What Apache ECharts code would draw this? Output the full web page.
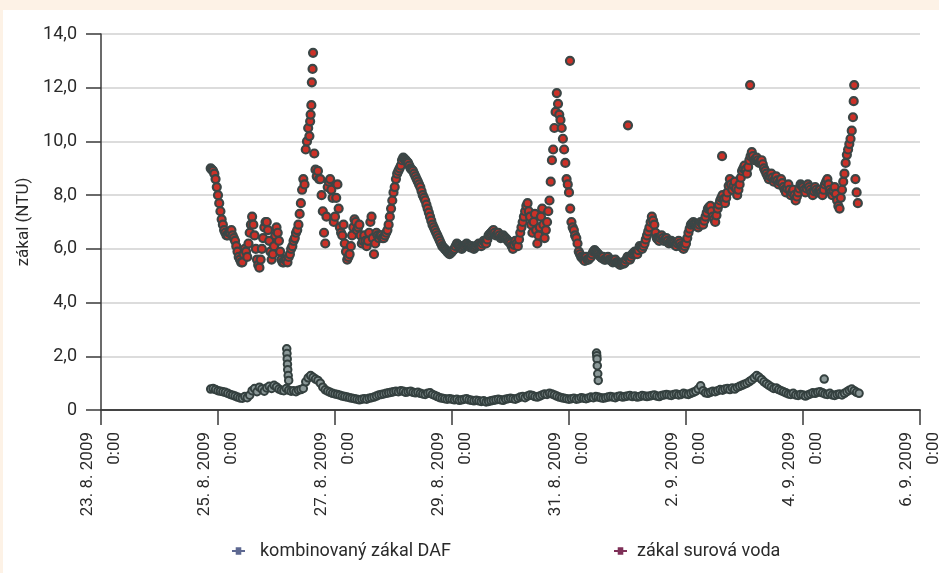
<!DOCTYPE html>
<html>
<head>
<meta charset="utf-8">
<script src="https://cdn.jsdelivr.net/npm/echarts@6/dist/echarts.min.js"></script>
<style>
  html, body { margin: 0; padding: 0; width: 939px; height: 573px; overflow: hidden; background: #fdf2e6; }
  #chart { position: absolute; left: 3px; top: 10px; width: 936px; height: 563px; background: #ffffff; }
</style>
</head>
<body>
<div id="chart"></div>
<script>
// Axis tick labels (x axis: one tick every two days starting 23. 8. 2009)
const dateTicks = ['23. 8. 2009', '25. 8. 2009', '27. 8. 2009', '29. 8. 2009',
                   '31. 8. 2009', '2. 9. 2009', '4. 9. 2009', '6. 9. 2009'];
const timeTick = '0:00';
const yTicks = [0, 2, 4, 6, 8, 10, 12, 14];

const seriesNames = ['kombinovaný zákal DAF', 'zákal surová voda'];

// First sample 24. 8. 2009 21:00 (x in days since 23. 8. 2009 0:00)
const firstSampleDay = 1.875;
const rawWaterStepHours = 0.5;
const dafStepHours = 1;

// zákal surová voda (NTU), every 30 minutes
const rawWater = [
  9.0, 8.95, 8.9, 8.8, 8.6, 8.3, 8.0, 7.7, 7.4, 7.1, 6.9, 6.7, 6.6, 6.5, 6.5, 6.6,
  6.6, 6.7, 6.5, 6.4, 6.3, 6.1, 5.9, 5.7, 5.6, 5.5, 5.5, 5.8, 6.0, 5.9, 5.7, 6.2,
  6.6, 6.9, 7.2, 6.9, 6.5, 6.0, 5.6, 5.4, 5.3, 5.6, 6.0, 6.4, 6.8, 7.0, 7.0, 6.7,
  6.3, 5.9, 5.6, 5.8, 6.1, 6.5, 6.8, 6.6, 6.3, 5.9, 5.6, 5.5, 5.5, 5.6, 5.6, 5.5,
  5.7, 5.8, 6.0, 6.1, 6.3, 6.4, 6.6, 6.7, 6.9, 7.3, 7.7, 8.2, 8.6, 8.4, 9.7, 10.0,
  10.5, 10.2, 11.0, 12.2, 13.3, 9.55, 8.95, 8.7, 8.9, 8.6, 8.6, 8.0, 7.4, 6.6, 6.2, 7.2,
  8.3, 8.5, 8.6, 8.2, 7.9, 7.0, 7.2, 7.9, 8.4, 7.5, 6.8, 6.6, 6.5, 6.9, 6.2, 5.9,
  5.6, 5.7, 5.8, 6.1, 6.5, 6.8, 7.1, 7.0, 6.7, 6.8, 6.9, 6.5, 6.2, 6.3, 6.5, 6.3,
  6.1, 6.3, 6.6, 7.0, 7.2, 6.4, 5.8, 6.2, 6.6, 6.5, 6.4, 6.5, 6.5, 6.4, 6.4, 6.5,
  6.6, 6.7, 6.9, 7.2, 7.5, 7.8, 8.1, 8.3, 8.6, 8.8, 8.9, 9.0, 9.1, 9.3, 9.4, 9.35,
  9.3, 9.25, 9.2, 9.1, 9.0, 8.95, 8.9, 8.8, 8.7, 8.6, 8.5, 8.4, 8.3, 8.15, 8.0, 7.9,
  7.8, 7.65, 7.5, 7.35, 7.2, 7.05, 6.9, 6.8, 6.7, 6.6, 6.5, 6.4, 6.3, 6.2, 6.1, 6.05,
  6.0, 5.95, 5.9, 5.85, 5.8, 5.85, 5.9, 5.95, 6.0, 6.1, 6.2, 6.15, 6.1, 6.05, 6.0, 6.05,
  6.1, 6.15, 6.2, 6.15, 6.1, 6.05, 6.1, 6.05, 6.0, 6.05, 6.1, 6.15, 6.2, 6.15, 6.1, 6.2,
  6.3, 6.25, 6.2, 6.35, 6.5, 6.55, 6.6, 6.65, 6.7, 6.6, 6.5, 6.55, 6.6, 6.5, 6.4, 6.45,
  6.5, 6.45, 6.4, 6.35, 6.3, 6.25, 6.2, 6.1, 6.0, 6.15, 6.3, 6.2, 6.1, 6.35, 6.6, 6.8,
  7.0, 7.2, 7.4, 7.6, 7.7, 7.4, 7.2, 6.9, 6.6, 7.0, 7.3, 6.7, 6.2, 6.5, 6.8, 7.2,
  7.5, 6.9, 6.4, 6.7, 7.0, 7.4, 7.8, 8.5, 9.3, 9.7, 10.5, 11.1, 11.8, 11.4, 11.0, 10.8,
  10.5, 10.1, 9.7, 9.2, 8.6, 8.4, 8.1, 7.5, 7.0, 6.8, 6.7, 6.5, 6.4, 6.2, 5.9, 5.8,
  5.7, 5.65, 5.6, 5.55, 5.7, 5.6, 5.6, 5.65, 5.7, 5.8, 5.9, 5.95, 5.9, 5.85, 5.8, 5.75,
  5.7, 5.65, 5.7, 5.6, 5.6, 5.65, 5.7, 5.6, 5.6, 5.55, 5.5, 5.55, 5.6, 5.5, 5.5, 5.45,
  5.4, 5.45, 5.5, 5.45, 5.5, 5.6, 5.7, 5.65, 5.6, 5.7, 5.8, 5.85, 5.9, 5.85, 5.8, 5.95,
  6.1, 6.05, 6.0, 6.1, 6.2, 6.35, 6.5, 6.65, 6.8, 7.0, 7.2, 7.05, 6.9, 6.6, 6.4, 6.35,
  6.3, 6.4, 6.5, 6.4, 6.3, 6.35, 6.4, 6.3, 6.2, 6.25, 6.3, 6.25, 6.2, 6.15, 6.1, 6.2,
  6.3, 6.2, 6.1, 6.05, 6.0, 6.1, 6.2, 6.4, 6.6, 6.75, 6.9, 6.95, 7.0, 6.95, 6.9, 6.85,
  6.8, 6.9, 7.0, 6.95, 6.9, 7.05, 7.2, 7.35, 7.5, 7.55, 7.6, 7.4, 7.2, 7.1, 7.0, 7.25,
  7.5, 7.65, 7.8, 7.9, 8.0, 7.85, 7.7, 7.9, 8.1, 8.35, 8.6, 8.4, 8.2, 8.35, 8.5, 8.25,
  8.0, 8.2, 8.4, 8.65, 8.9, 9.0, 9.1, 8.95, 8.8, 9.05, 9.3, 9.45, 9.6, 9.45, 9.3, 9.35,
  9.4, 9.3, 9.2, 9.25, 9.3, 9.15, 9.0, 8.9, 8.8, 8.7, 8.6, 8.7, 8.8, 8.65, 8.5, 8.6,
  8.7, 8.55, 8.4, 8.5, 8.6, 8.45, 8.3, 8.2, 8.1, 8.25, 8.4, 8.2, 8.0, 8.1, 8.2, 8.0,
  7.8, 7.95, 8.1, 8.25, 8.4, 8.35, 8.3, 8.2, 8.1, 8.25, 8.4, 8.3, 8.2, 8.1, 8.0, 8.15,
  8.3, 8.2, 8.1, 8.15, 8.2, 8.1, 8.0, 8.2, 8.4, 8.5, 8.6, 8.4, 8.2, 8.1, 8.0, 8.15,
  8.3, 8.05, 7.8, 7.6, 7.5, 7.9, 8.2, 8.5, 8.8, 9.2, 9.5, 9.7, 9.9, 10.1, 10.4, 10.9,
  12.1, 8.6, 8.1, 7.7
];
// extra readings between the regular samples: hours since 25. 8. 2009 0:00, NTU
const rawWaterExtraHours = [37.8, 38.3, 38.8, 144.4, 168.2, 206.8, 218.3, 260.8];
const rawWaterExtraValues = [10.75, 11.35, 12.7, 13.0, 10.6, 9.45, 12.1, 11.5];

// kombinovaný zákal DAF (NTU), hourly
const dafTurbidity = [
  0.78, 0.80, 0.76, 0.72, 0.70, 0.68, 0.66, 0.62, 0.58, 0.55, 0.52, 0.48, 0.45, 0.44, 0.50, 0.46,
  0.55, 0.72, 0.80, 0.68, 0.85, 0.78, 0.70, 0.82, 0.88, 0.80, 0.92, 0.86, 0.78, 0.74, 0.72, 0.80,
  0.74, 0.70, 0.72, 0.68, 0.74, 0.76, 0.80, 1.05, 1.20, 1.28, 1.22, 1.15, 1.10, 1.00, 0.85, 0.75,
  0.70, 0.66, 0.62, 0.60, 0.58, 0.55, 0.52, 0.50, 0.48, 0.46, 0.44, 0.42, 0.40, 0.38, 0.40, 0.42,
  0.40, 0.44, 0.46, 0.48, 0.52, 0.56, 0.58, 0.60, 0.62, 0.64, 0.66, 0.68, 0.70, 0.68, 0.72, 0.70,
  0.66, 0.68, 0.70, 0.66, 0.64, 0.66, 0.62, 0.60, 0.58, 0.62, 0.64, 0.58, 0.54, 0.50, 0.46, 0.44,
  0.42, 0.40, 0.42, 0.40, 0.38, 0.40, 0.36, 0.38, 0.40, 0.42, 0.38, 0.36, 0.34, 0.36, 0.34, 0.32,
  0.34, 0.30, 0.32, 0.34, 0.36, 0.38, 0.40, 0.38, 0.36, 0.40, 0.42, 0.44, 0.42, 0.40, 0.44, 0.48,
  0.50, 0.46, 0.52, 0.56, 0.54, 0.50, 0.48, 0.52, 0.56, 0.60, 0.58, 0.62, 0.60, 0.56, 0.52, 0.48,
  0.46, 0.44, 0.42, 0.40, 0.42, 0.44, 0.40, 0.42, 0.46, 0.44, 0.42, 0.45, 0.48, 0.46, 0.50, 0.48,
  0.46, 0.44, 0.46, 0.48, 0.50, 0.48, 0.46, 0.50, 0.52, 0.48, 0.50, 0.52, 0.54, 0.50, 0.52, 0.48,
  0.50, 0.54, 0.52, 0.50, 0.52, 0.54, 0.56, 0.52, 0.50, 0.54, 0.56, 0.58, 0.56, 0.54, 0.58, 0.60,
  0.56, 0.58, 0.62, 0.60, 0.58, 0.62, 0.66, 0.70, 0.78, 0.90, 0.72, 0.64, 0.62, 0.66, 0.70, 0.68,
  0.72, 0.76, 0.74, 0.78, 0.80, 0.76, 0.82, 0.78, 0.84, 0.88, 0.92, 0.96, 1.00, 1.06, 1.12, 1.20,
  1.28, 1.22, 1.14, 1.05, 0.98, 0.92, 0.86, 0.80, 0.82, 0.76, 0.72, 0.68, 0.64, 0.60, 0.58, 0.62,
  0.56, 0.54, 0.58, 0.56, 0.52, 0.56, 0.60, 0.64, 0.62, 0.66, 0.68, 0.64, 0.60, 0.58, 0.62, 0.56,
  0.54, 0.58, 0.60, 0.56, 0.62, 0.68, 0.74, 0.78, 0.72, 0.66, 0.62
];
const dafExtraHours = [28.2, 28.3, 28.4, 28.5, 28.6, 28.8, 29.0,
                       155.3, 155.4, 155.5, 155.6, 155.8, 156.0,
                       248.7];
const dafExtraValues = [2.28, 2.10, 1.90, 1.70, 1.50, 1.28, 1.10,
                        2.12, 2.02, 1.90, 1.65, 1.35, 1.10,
                        1.15];

// Build [day, value] pairs for the value axis (days since 23. 8. 2009 0:00)
function buildPoints(values, stepHours, extraHours, extraValues) {
  const pts = values.map((v, i) => [firstSampleDay + i * stepHours / 24, v]);
  extraHours.forEach((h, i) => pts.push([2 + h / 24, extraValues[i]]));
  return pts.sort((a, b) => a[0] - b[0]);
}

const fontFamily = 'Roboto, "Open Sans", sans-serif';
const axisColor = '#3a3a3a';
const legendIcon = 'path://M0,4h4v-3h6v3h4v2h-4v3h-6v-3h-4z';

const chart = echarts.init(document.getElementById('chart'), null, { renderer: 'canvas' });

chart.setOption({
  animation: false,
  backgroundColor: '#ffffff',
  textStyle: { fontFamily: fontFamily },
  grid: { left: 98, right: 19, top: 24, bottom: 163, outerBoundsMode: 'none', containLabel: false },
  xAxis: [{
    type: 'value',
    min: 0,
    max: 14,
    interval: 2,
    axisLine: { show: true, onZero: false, lineStyle: { color: axisColor, width: 1.5 } },
    axisTick: { show: true, inside: false, length: 15, lineStyle: { color: axisColor, width: 1.5 } },
    splitLine: { show: false },
    axisLabel: {
      rotate: 90,
      margin: 22,
      fontSize: 17,
      lineHeight: 27,
      color: '#2a2a2a',
      fontFamily: fontFamily,
      formatter: v => dateTicks[Math.round(v / 2)] + '\n' + timeTick
    }
  }, {
    type: 'value',
    position: 'top',
    min: 0,
    max: 14,
    axisLine: { show: true, lineStyle: { color: axisColor, width: 1.5 } },
    axisTick: { show: false },
    axisLabel: { show: false },
    splitLine: { show: false }
  }],
  yAxis: {
    type: 'value',
    min: yTicks[0],
    max: yTicks[yTicks.length - 1],
    interval: 2,
    name: 'zákal (NTU)',
    nameLocation: 'middle',
    nameGap: 64,
    nameRotate: 90,
    nameTextStyle: { fontSize: 17, color: '#2a2a2a', fontFamily: fontFamily },
    axisLine: { show: true, lineStyle: { color: axisColor, width: 1.5 } },
    axisTick: { show: true, inside: false, length: 15, lineStyle: { color: axisColor, width: 1.5 } },
    splitLine: { show: true, lineStyle: { color: '#dcdcdc', width: 2 } },
    axisLabel: {
      margin: 24,
      fontSize: 18,
      color: '#2a2a2a',
      fontFamily: fontFamily,
      formatter: v => v === 0 ? '0' : v.toFixed(1).replace('.', ',')
    }
  },
  legend: [{
    left: 229,
    top: 532,
    padding: 0,
    itemWidth: 13,
    itemHeight: 10,
    textStyle: { fontSize: 18, color: '#2a2a2a', fontFamily: fontFamily, padding: [0, 0, 0, 10] },
    data: [{ name: seriesNames[0], icon: legendIcon, itemStyle: { color: '#5d6891', borderWidth: 0 } }]
  }, {
    left: 611,
    top: 532,
    padding: 0,
    itemWidth: 13,
    itemHeight: 10,
    textStyle: { fontSize: 18, color: '#2a2a2a', fontFamily: fontFamily, padding: [0, 0, 0, 5] },
    data: [{ name: seriesNames[1], icon: legendIcon, itemStyle: { color: '#7e2f57', borderWidth: 0 } }]
  }],
  series: [{
    name: seriesNames[0],
    type: 'scatter',
    symbol: 'circle',
    symbolSize: 7.5,
    itemStyle: { color: '#8b9898', borderColor: '#34403f', borderWidth: 2, opacity: 1 },
    data: buildPoints(dafTurbidity, dafStepHours, dafExtraHours, dafExtraValues)
  }, {
    name: seriesNames[1],
    type: 'scatter',
    symbol: 'circle',
    symbolSize: 8,
    itemStyle: { color: '#cc3128', borderColor: '#3b4646', borderWidth: 2.2, opacity: 1 },
    data: buildPoints(rawWater, rawWaterStepHours, rawWaterExtraHours, rawWaterExtraValues)
  }]
});
</script>
</body>
</html>
